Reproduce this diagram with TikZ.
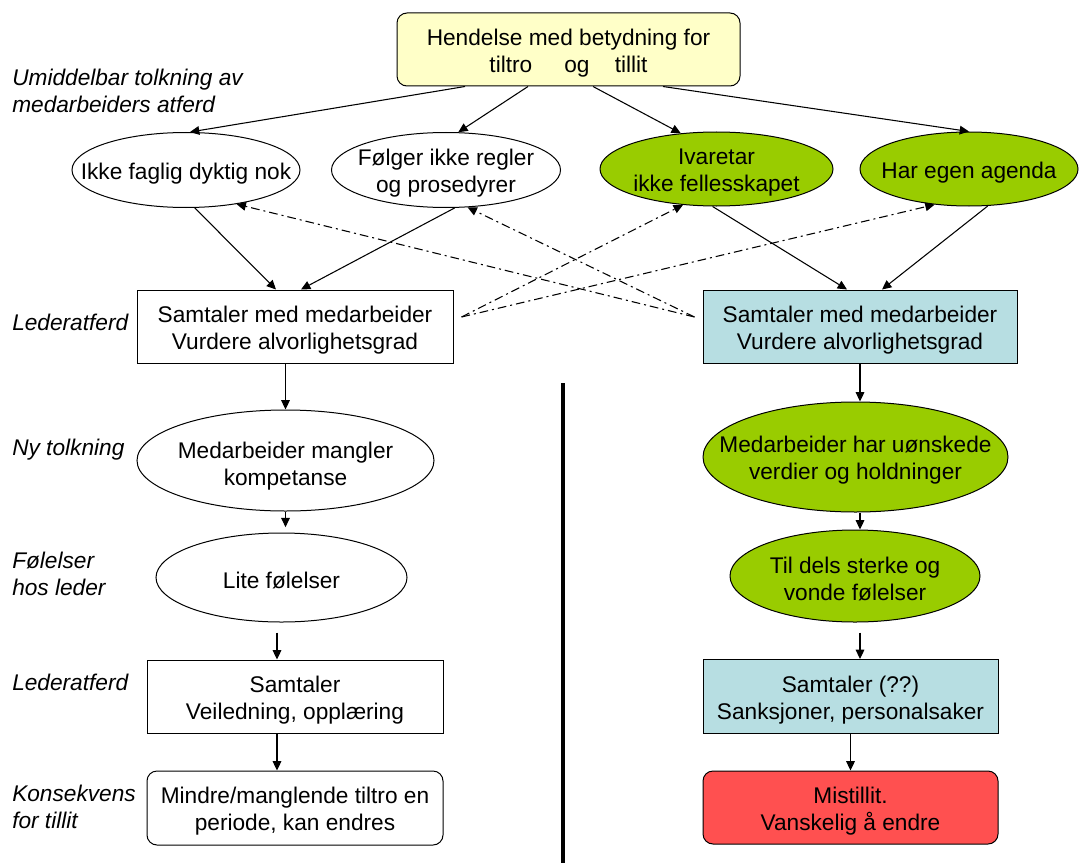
\documentclass[tikz,border=0pt]{standalone}
\usepackage{fontspec}
\setmainfont{Liberation Sans}
\usetikzlibrary{shapes.geometric,arrows.meta,calc}
\definecolor{notefill}{HTML}{FFFFC8}
\definecolor{leaf}{HTML}{99CC00}
\definecolor{pale}{HTML}{B7DEE2}
\definecolor{alarm}{HTML}{FF5050}
\begin{document}
\begin{tikzpicture}[x=0.75pt,y=-0.75pt,
  txt/.style={font=\fontsize{17}{20.25}\selectfont, align=center, inner sep=0pt, yshift=-2.6pt},
  side/.style={font=\fontsize{17}{20.25}\selectfont\itshape, align=left, inner sep=0pt, anchor=west},
  rect/.style 2 args={draw, line width=0.75pt, inner sep=0pt, minimum width=#1*0.75pt, minimum height=#2*0.75pt},
  rrect/.style 2 args={rect={#1}{#2}, rounded corners=7.5pt},
  oval/.style 2 args={ellipse, draw, line width=0.75pt, inner sep=0pt, minimum width=#1*0.75pt, minimum height=#2*0.75pt},
  arr/.style={-{Triangle[length=7pt,width=6.5pt]}, line width=0.8pt},
  dd/.style={dash pattern=on 6.5pt off 3pt on 1.5pt off 3pt}
]
\useasboundingbox (0,0) rectangle (1080,863);

% top event
\node[rrect={343}{73}, fill=notefill] (top) at (568.5,49.5) {};
\node[txt] at (top) {Hendelse med betydning for\\tiltro\hspace{24pt}og\hspace{19pt}tillit};

% first interpretations
\node[oval={228}{75}] (e1) at (186,170) {};
\node[txt] at (e1) {Ikke faglig dyktig nok};
\node[oval={229}{75}] (e2) at (446,170) {};
\node[txt] at (e2) {Følger ikke regler\\og prosedyrer};
\node[oval={233}{74}, fill=leaf] (e3) at (716.5,169) {};
\node[txt] at (e3) {Ivaretar\\ikke fellesskapet};
\node[oval={218}{74}, fill=leaf] (e4) at (969,169) {};
\node[txt] at (e4) {Har egen agenda};

% left column
\node[rect={316}{73}] (l1) at (295,326.5) {};
\node[txt] at (l1) {Samtaler med medarbeider\\Vurdere alvorlighetsgrad};
\node[oval={297}{101}] (l2) at (285.5,460.5) {};
\node[txt] at ($(l2)+(0,2)$) {Medarbeider mangler\\kompetanse};
\node[oval={251}{89}] (l3) at (281.5,577.5) {};
\node[txt] at (l3) {Lite følelser};
\node[rect={296}{73}] (l4) at (295,696.5) {};
\node[txt] at (l4) {Samtaler\\Veiledning, opplæring};
\node[rrect={296}{74}] (l5) at (295,808) {};
\node[txt] at (l5) {Mindre/manglende tiltro en\\periode, kan endres};

% right column
\node[rect={314}{73}, fill=pale] (r1) at (860,326.5) {};
\node[txt] at (r1) {Samtaler med medarbeider\\Vurdere alvorlighetsgrad};
\node[oval={305}{110}, fill=leaf] (r2) at (855.5,457) {};
\node[txt] at (r2) {Medarbeider har uønskede\\verdier og holdninger};
\node[oval={250}{92}, fill=leaf] (r3) at (855,576) {};
\node[txt] at (r3) {Til dels sterke og\\vonde følelser};
\node[rect={295}{74}, fill=pale] (r4) at (850.5,696.5) {};
\node[txt] at (r4) {Samtaler (??)\\Sanksjoner, personalsaker};
\node[rrect={295}{73}, fill=alarm] (r5) at (850.5,807.5) {};
\node[txt] at (r5) {Mistillit.\\Vanskelig å endre};

% row captions
\node[side] (c1) at (12,90.5) {Umiddelbar tolkning av\\medarbeiders atferd};
\node[side] (c2) at (12,322) {Lederatferd};
\node[side] (c3) at (12,450) {Ny tolkning};
\node[side] (c4) at (12,573.5) {Følelser\\hos leder};
\node[side] (c5) at (12,682) {Lederatferd};
\node[side] (c6) at (12,806.5) {Konsekvens\\for tillit};

% divider
\draw[line width=3pt] (563,383) -- (563,863);

% event to interpretations
\draw[arr] ($(top.south)+(-103.5,0)$) -- (e1.84);
\draw[arr] ($(top.south)+(-40.5,0)$) -- (e2.72);
\draw[arr] ($(top.south)+(24.5,0)$) -- (e3.135);
\draw[arr] ($(top.south)+(94.5,0)$) -- (e4.north);

% interpretations to leader behaviour
\draw[arr] (e1.283) -- ($(l1.north)+(-19,0)$);
\draw[arr] (e2.283) -- ($(l1.north)+(6,0)$);
\draw[arr] (e3.264) -- ($(r1.north)+(-13,0)$);
\draw[arr] (e4.297) -- ($(r1.north)+(22,0)$);

% cross links
\coordinate (lout) at ($(l1.east)+(8,-9.5)$);
\coordinate (rout) at ($(r1.west)+(-8,-9.5)$);
\draw[arr, dd] (lout) -- (e3.227);
\draw[arr, dd] (lout) -- (e4.226);
\draw[arr, dd] (rout) -- (e1.326);
\draw[arr, dd] (rout) -- (e2.300);

% left chain
\coordinate (lx) at ($(l4.north)+(-18,0)$);
\draw[arr] (l1.south -| l2) -- (l2.north);
\draw[arr, shorten >=4pt] (l2.south) -- (l2.south |- l3.north);
\draw[arr, shorten <=7.5pt] (l3.south -| lx) -- (lx);
\draw[arr] (l4.south -| lx) -- (l5.north -| lx);

% right chain
\draw[arr] (r1.south) -- (r1.south |- r2.north);
\draw[arr] (r2.south -| r1) -- (r3.north -| r1);
\draw[arr, shorten <=7.5pt] (r3.south -| r1) -- (r4.north -| r1);
\draw[arr] (r4.south) -- (r5.north);
\end{tikzpicture}
\end{document}
